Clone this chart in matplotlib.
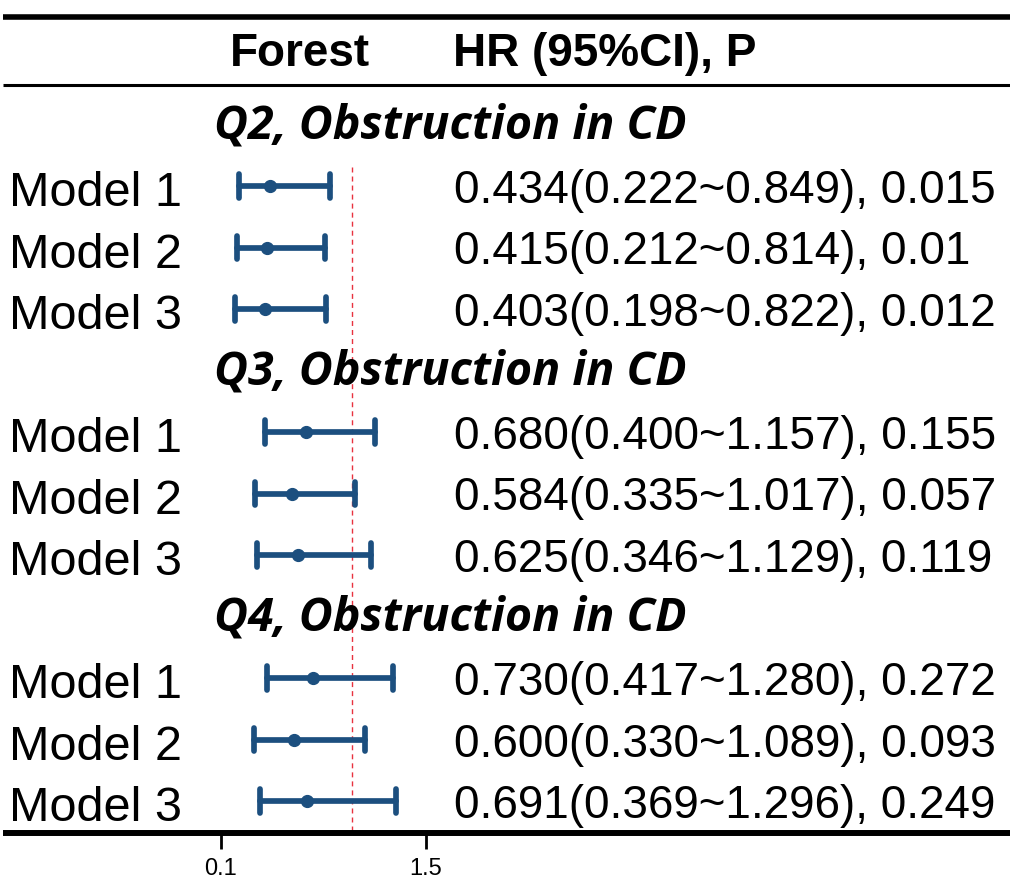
import matplotlib
matplotlib.use("Agg")
import matplotlib.pyplot as plt
import matplotlib.transforms as mtransforms
from matplotlib.lines import Line2D

# ---------------- data ----------------
groups = ["Q2, Obstruction in CD", "Q3, Obstruction in CD", "Q4, Obstruction in CD"]
models = ["Model 1", "Model 2", "Model 3"]
hr = [[0.434, 0.415, 0.403], [0.680, 0.584, 0.625], [0.730, 0.600, 0.691]]
lower = [[0.222, 0.212, 0.198], [0.400, 0.335, 0.346], [0.417, 0.330, 0.369]]
upper = [[0.849, 0.814, 0.822], [1.157, 1.017, 1.129], [1.280, 1.089, 1.296]]
p_values = [["0.015", "0.01", "0.012"], ["0.155", "0.057", "0.119"], ["0.272", "0.093", "0.249"]]
ref_value = 1.0
x_ticks = [0.1, 1.5]
x_tick_labels = ["0.1", "1.5"]
header_left = "Forest"
header_right = "HR (95%CI), P"

# ---------------- layout helpers (pixels) ----------------
W, H = 1010, 885
fig = plt.figure(figsize=(W / 100, H / 100), dpi=100)
fig.patch.set_facecolor("white")

ROW0, ROWH = 124.5, 61.5           # pixel y of first row centre, row height
def k_of(py):
    return (py - ROW0) / ROWH

PX0, PXU = 220.7, 146.4            # pixel x of value 0.1, pixels per unit
def v_of(px):
    return 0.1 + (px - PX0) / PXU

AX_BOTTOM = 833
ax_l, ax_r, ax_t, ax_b = 200, 450, 100, AX_BOTTOM
ax = fig.add_axes([ax_l / W, 1 - ax_b / H, (ax_r - ax_l) / W, (ax_b - ax_t) / H])
ax.set_xlim(v_of(ax_l), v_of(ax_r))
ax.set_ylim(k_of(ax_b), k_of(ax_t))
ax.patch.set_alpha(0)
for s in ax.spines.values():
    s.set_visible(False)
ax.set_yticks([])
ax.set_xticks(x_ticks)
ax.set_xticklabels(x_tick_labels, family="Liberation Sans")
ax.tick_params(axis="x", length=11.5, width=2.0, pad=6.5, labelsize=17, color="black")

blue = "#1C4F7F"
red = "#E8323F"

# reference line
ax.vlines(ref_value, k_of(167), k_of(AX_BOTTOM), colors=red, lw=1.0,
          linestyles=(0, (3.6, 2.9)), zorder=1)

tr = mtransforms.blended_transform_factory(fig.transFigure, ax.transData)
font_reg = "Liberation Sans"

title_texts = []
for g, gname in enumerate(groups):
    kt = 4 * g
    t = fig.text(214 / W, kt + 14 / ROWH, gname, transform=tr, family="Open Sans",
                 fontweight="bold", fontstyle="italic", fontsize=31,
                 ha="left", va="baseline")
    title_texts.append(t)
    for m, mname in enumerate(models):
        k = 4 * g + 1 + m
        lo, up, est = lower[g][m], upper[g][m], hr[g][m]
        line = ax.hlines(k, lo, up, colors=blue, lw=4.1, zorder=3)
        line.set_capstyle("round")
        caps = ax.vlines([lo, up], k - 0.19, k + 0.19, colors=blue, lw=4.1, zorder=3)
        caps.set_capstyle("round")
        ax.plot([est], [k], "o", color=blue, ms=8.5, zorder=4)
        fig.text(9 / W, k + 20 / ROWH, mname, transform=tr, family=font_reg,
                 fontsize=35, ha="left", va="baseline")
        label = f"{est:.3f}({lo:.3f}~{up:.3f}), {p_values[g][m]}"
        fig.text(454 / W, k + 17 / ROWH, label, transform=tr, family=font_reg,
                 fontsize=33, ha="left", va="baseline")

# fit group-title width to the reference span (~472 px)
fig.canvas.draw()
renderer = fig.canvas.get_renderer()
for t in title_texts:
    w = t.get_window_extent(renderer).width
    t.set_fontsize(t.get_fontsize() * 472.0 / w)

# header
fig.text(230 / W, 1 - 66 / H, header_left, family=font_reg, fontweight="bold",
         fontsize=33, ha="left", va="baseline")
fig.text(453 / W, 1 - 66 / H, header_right, family=font_reg, fontweight="bold",
         fontsize=33, ha="left", va="baseline")

# horizontal rules
def hrule(py, lw):
    fig.add_artist(Line2D([3 / W, 1.0], [1 - py / H, 1 - py / H],
                          transform=fig.transFigure, color="black", lw=lw,
                          solid_capstyle="butt"))

hrule(17.3, 4.0)
hrule(84.5, 2.2)
hrule(AX_BOTTOM, 4.3)

fig.savefig("out.png", dpi=100, facecolor="white")
